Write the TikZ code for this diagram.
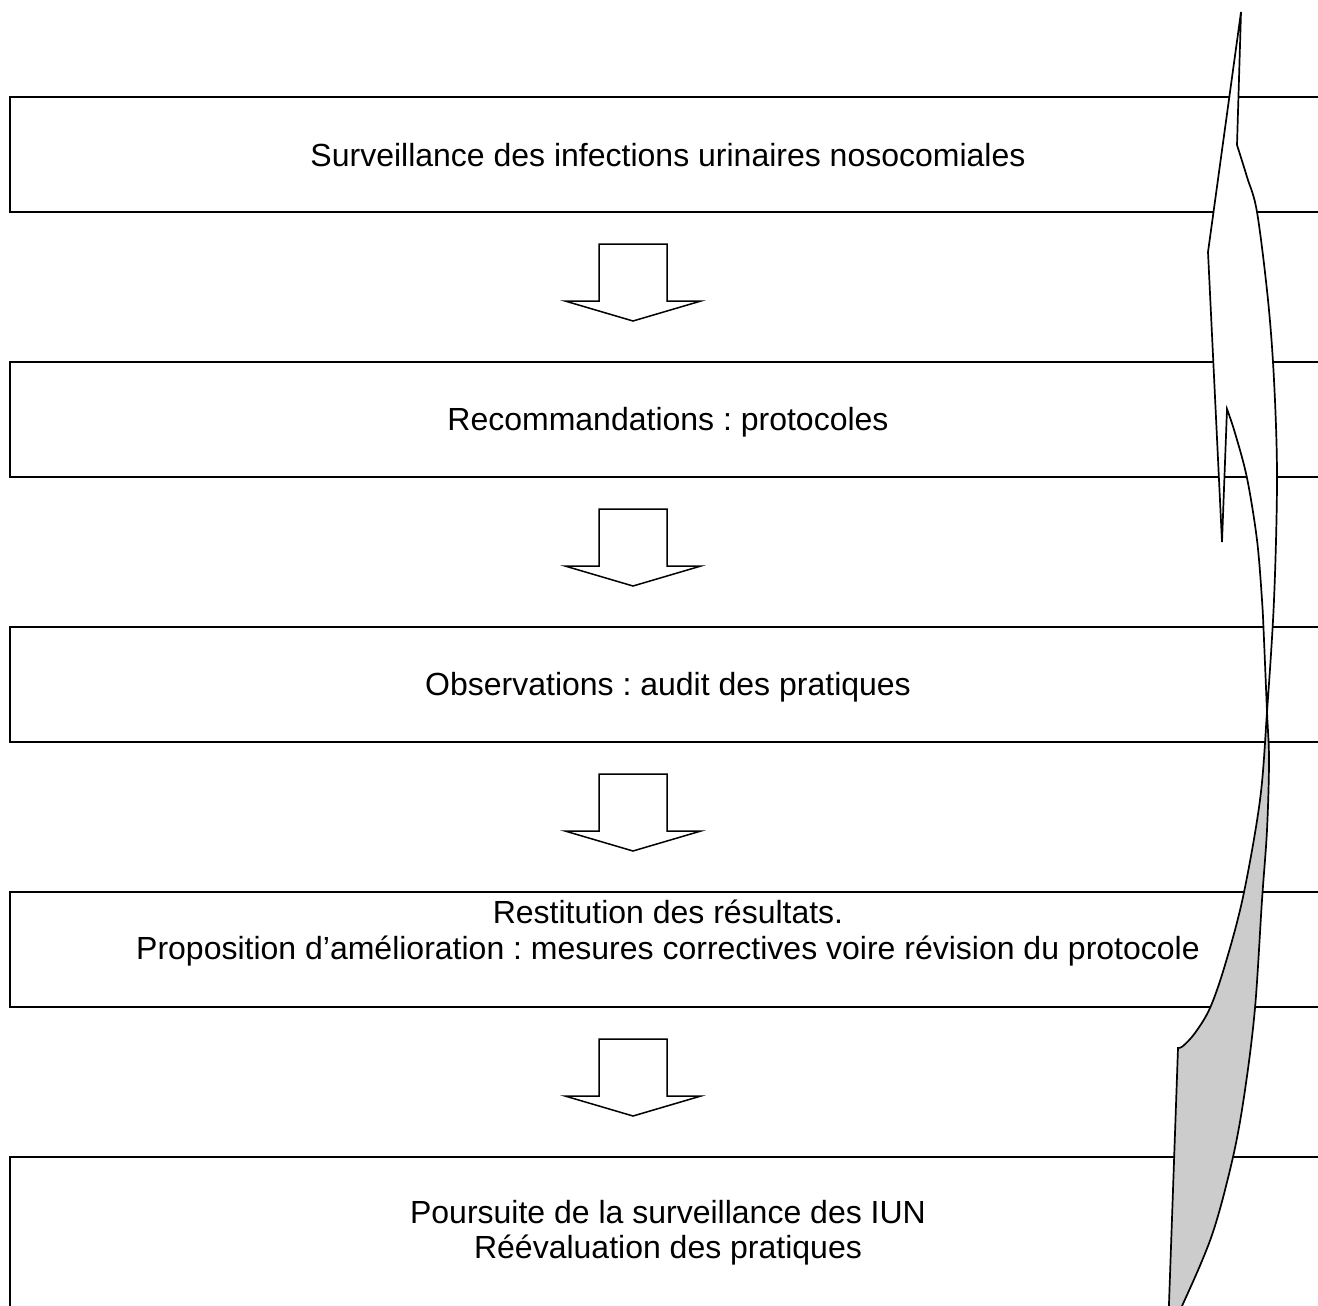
\documentclass[tikz,border=0pt]{standalone}
\usepackage{fontspec}
\setmainfont{Liberation Sans}
\frenchspacing
\newcommand{\bentarrowpath}{(1241,12) -- (1208,252) -- (1222,542) -- (1227,409)
  -- plot[smooth, tension=0.55] coordinates {(1227,409) (1235,433) (1247,478) (1257,540) (1262,600) (1264,640) (1267,712) (1269,760) (1267,830) (1262,900) (1255,1008) (1245,1090) (1233,1157) (1212,1235) (1182,1306) (1168,1332)}
  -- (1178,1048)
  -- plot[smooth, tension=0.55] coordinates {(1178,1048) (1183,1046) (1195,1033) (1210,1008) (1225,965) (1243,897) (1260,800) (1267,712) (1274,600) (1277,478) (1274,380) (1268,300) (1257,212) (1247,177) (1237,145)}
  -- cycle}
\begin{document}
\begin{tikzpicture}[x=0.5pt,y=-0.5pt,
  stagebox/.style={draw, line width=1.1pt, rectangle, inner sep=0pt, minimum width=658pt},
  stagetext/.style={anchor=base, inner sep=0pt, font=\fontsize{16}{18}\selectfont},
  blockarrow/.style={draw, line width=0.75pt, fill=white, line join=miter},
  bentline/.style={draw, line width=0.85pt, line join=miter}]
\useasboundingbox (0,0) rectangle (1318,1306);
\clip (0,0) rectangle (1318,1306);
\fill[white] (0,0) rectangle (1318,1306);

% boxes
\node[stagebox, minimum height=57.5pt] (b1) at (668,154.5) {};
\node[stagebox, minimum height=57.5pt] (b2) at (668,419.5) {};
\node[stagebox, minimum height=57.5pt] (b3) at (668,684.5) {};
\node[stagebox, minimum height=57.5pt] (b4) at (668,949.5) {};
\node[stagebox, minimum height=121.5pt] (b5) at (668,1278.5) {};

% texts
\node[stagetext] (t1) at (668,166) {Surveillance des infections urinaires nosocomiales};
\node[stagetext] (t2) at (668,430) {Recommandations : protocoles};
\node[stagetext] (t3) at (668,695) {Observations : audit des pratiques};
\node[stagetext] (t4a) at (668,923) {Restitution des résultats.};
\node[stagetext] (t4b) at (668,959) {Proposition d’amélioration : mesures correctives voire révision du protocole};
\node[stagetext] (t5a) at (668,1223) {Poursuite de la surveillance des IUN};
\node[stagetext] (t5b) at (668,1258) {Réévaluation des pratiques};

% block arrows between boxes
\foreach \k in {0,1,2,3}{
  \draw[blockarrow, shift={(0,265*\k)}] (599,244) -- (667,244) -- (667,301) -- (701,301) -- (633,321) -- (565,301) -- (599,301) -- cycle;
}

% curved return arrow
\fill[white] \bentarrowpath;
\begin{scope}
  \clip (0,712) rectangle (1318,1400);
  \fill[gray!40] \bentarrowpath;
\end{scope}
\path[bentline] \bentarrowpath;
\end{tikzpicture}
\end{document}
